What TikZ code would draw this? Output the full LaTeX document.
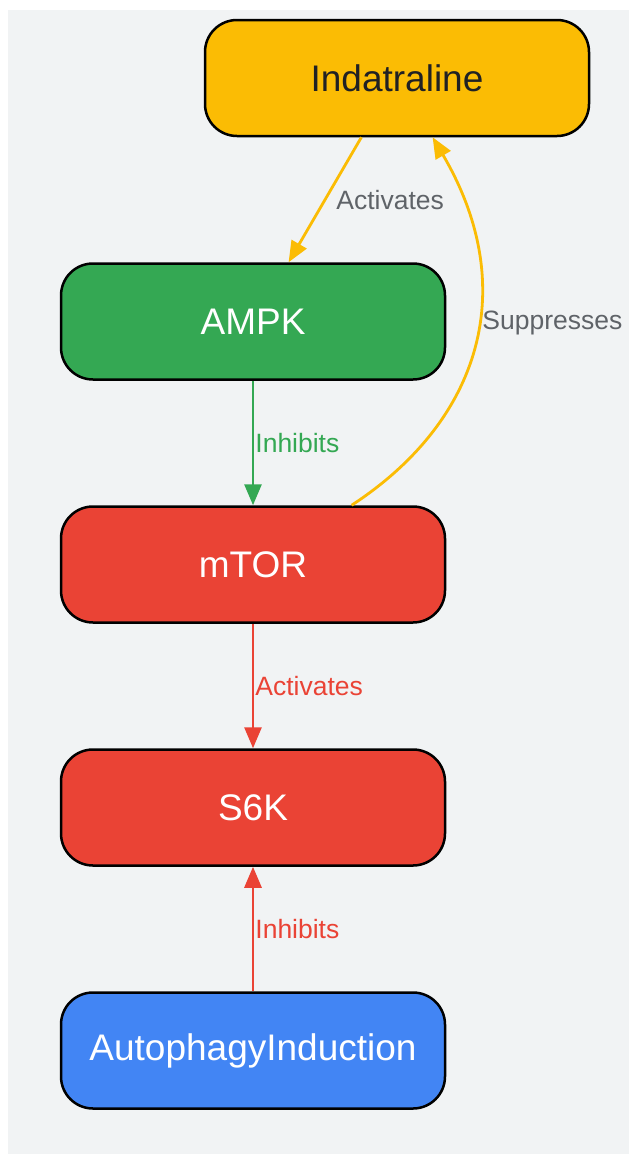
\documentclass[tikz,border=0pt]{standalone}
\usepackage{fontspec}
\setmainfont{Liberation Sans}
\usetikzlibrary{arrows.meta}
\definecolor{bgcol}{HTML}{F1F3F4}
\definecolor{yel}{HTML}{FBBC04}
\definecolor{grn}{HTML}{34A853}
\definecolor{rd}{HTML}{EA4335}
\definecolor{blu}{HTML}{4285F4}
\definecolor{lblgray}{HTML}{5F6368}
\definecolor{txtdark}{HTML}{202124}
\tikzset{
  box/.style={draw=black, line width=2.5pt, rounded corners=32pt,
    minimum width=384pt, minimum height=116pt,
    font=\fontsize{37}{44}\selectfont, text=white},
  link/.style={line width=2.8pt, -{Triangle[length=21pt,width=17pt]}},
  lbl/.style={font=\fontsize{26.5}{32}\selectfont, inner sep=1pt, anchor=west}
}
\begin{document}
\begin{tikzpicture}[x=1pt,y=-1pt]
  \useasboundingbox (0,0) rectangle (629,1154);
  \fill[bgcol] (8,10) rectangle (629,1154);

  \node[box, fill=yel, text=txtdark] (ind)  at (397,78)     {Indatraline};
  \node[box, fill=grn]               (ampk) at (253,321.5)  {AMPK};
  \node[box, fill=rd]                (mtor) at (253,564.5)  {mTOR};
  \node[box, fill=rd]                (s6k)  at (253,807.5)  {S6K};
  \node[box, fill=blu]               (auto) at (253,1050.5) {AutophagyInduction};

  \draw[link, yel] (ind.239.6) -- node[lbl, text=lblgray, xshift=9pt] {Activates} (ampk.59.3);
  \draw[link, grn] (ampk) -- node[lbl, text=grn] {Inhibits} (mtor);
  \draw[link, yel] (mtor.31) .. controls +(130,-85) and +(88,150) .. node[lbl, text=lblgray, pos=0.56, inner sep=0pt, xshift=3pt] {Suppresses} (ind.301);
  \draw[link, rd] (mtor) -- node[lbl, text=rd] {Activates} (s6k);
  \draw[link, rd] (auto) -- node[lbl, text=rd] {Inhibits} (s6k);
\end{tikzpicture}
\end{document}
